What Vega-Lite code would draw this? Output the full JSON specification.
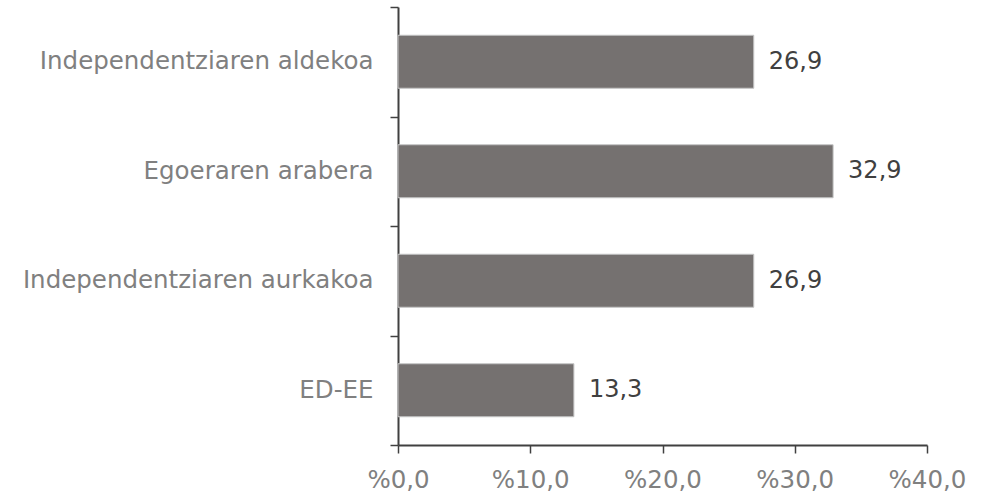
{
  "$schema": "https://vega.github.io/schema/vega-lite/v6.json",
  "width": 529,
  "height": 438,
  "autosize": {"type": "none"},
  "padding": {"left": 398, "top": 7, "right": 61, "bottom": 56},
  "background": "white",
  "config": {
    "view": {"stroke": null},
    "font": "DejaVu Sans",
    "axis": {"labelFont": "DejaVu Sans", "grid": false}
  },
  "data": {
    "values": [
      {"category": "Independentziaren aldekoa", "value": 26.9, "label": "26,9"},
      {"category": "Egoeraren arabera", "value": 32.9, "label": "32,9"},
      {"category": "Independentziaren aurkakoa", "value": 26.9, "label": "26,9"},
      {"category": "ED-EE", "value": 13.3, "label": "13,3"}
    ]
  },
  "encoding": {
    "y": {
      "field": "category",
      "type": "nominal",
      "sort": null,
      "scale": {"paddingInner": 0, "paddingOuter": 0},
      "axis": {
        "title": null,
        "tickBand": "extent",
        "domainColor": "#404040",
        "domainWidth": 2,
        "tickColor": "#404040",
        "tickWidth": 1.5,
        "tickSize": 8,
        "labelFontSize": 24.5,
        "labelColor": "#808080",
        "labelPadding": 17,
        "labelLimit": 0
      }
    },
    "x": {
      "field": "value",
      "type": "quantitative",
      "scale": {"domain": [0, 40], "nice": false},
      "axis": {
        "title": null,
        "values": [0, 10, 20, 30, 40],
        "labelExpr": "'%' + replace(format(datum.value, '.1f'), '.', ',')",
        "domainColor": "#404040",
        "domainWidth": 2,
        "tickColor": "#404040",
        "tickWidth": 1.5,
        "tickSize": 8,
        "labelFontSize": 24.5,
        "labelColor": "#808080",
        "labelPadding": 15,
        "labelFlush": false
      }
    }
  },
  "layer": [
    {
      "mark": {"type": "bar", "height": {"band": 0.484}, "color": "#757170", "stroke": "#c4c4c4", "strokeWidth": 1}
    },
    {
      "mark": {"type": "text", "align": "left", "baseline": "middle", "dx": 15, "fontSize": 24, "color": "#404040", "font": "DejaVu Sans"},
      "encoding": {"text": {"field": "label"}}
    }
  ]
}
